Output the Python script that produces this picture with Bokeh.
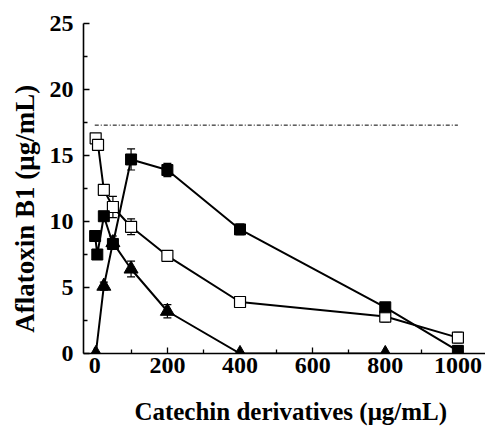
from bokeh.plotting import figure
from bokeh.models import ColumnDataSource, Whisker, TeeHead, Range1d, FixedTicker
from bokeh.embed import file_html
from bokeh.resources import INLINE

# data
filled_x = [1, 7, 25, 50, 100, 200, 400, 800, 1000]
filled_y = [8.9, 7.5, 10.4, 8.3, 14.7, 13.9, 9.4, 3.5, 0.2]
filled_err = [0, 0, 0, 0, 0.8, 0.5, 0.4, 0.3, 0.4]

open_x = [2.5, 9, 25, 50, 100, 200, 400, 800, 1000]
open_y = [16.3, 15.8, 12.4, 11.1, 9.6, 7.4, 3.9, 2.8, 1.2]
open_err = [0.2, 0.2, 0.2, 0.8, 0.6, 0.2, 0.3, 0.4, 0.4]

tri_x = [3, 25, 50, 100, 200, 400, 800]
tri_y = [0, 5.1, 8.4, 6.4, 3.2, 0, 0]
tri_err = [0, 0.3, 0.5, 0.6, 0.5, 0, 0]

control_x = [0, 1000]
control_y = [17.3, 17.3]

x_ticks = [0, 200, 400, 600, 800, 1000]
x_minor = [100, 300, 500, 700, 900]
y_ticks = [0, 5, 10, 15, 20, 25]
y_minor = [2.5, 7.5, 12.5, 17.5, 22.5]

x_title = "\u00a0\u00a0Catechin derivatives (μg/mL)"
y_title = "Aflatoxin B1 (μg/mL)\u00a0\u00a0\u00a0\u00a0\u00a0\u00a0"

FONT = "Liberation Serif"

p = figure(width=485, height=427, output_backend="svg", toolbar_location=None,
           x_range=Range1d(-31, 1076), y_range=Range1d(0, 25),
           min_border_left=83, min_border_right=0, min_border_top=23, min_border_bottom=74)
p.outline_line_color = None
p.xgrid.visible = False
p.ygrid.visible = False
p.background_fill_color = "white"
p.border_fill_color = "white"

for ax in (p.xaxis[0], p.yaxis[0]):
    ax.axis_line_width = 1.6
    ax.axis_line_color = "black"
    ax.major_tick_in = 6
    ax.major_tick_out = 0
    ax.minor_tick_in = 4
    ax.minor_tick_out = 0
    ax.major_tick_line_width = 1.3
    ax.minor_tick_line_width = 1.3
    ax.major_tick_line_color = "black"
    ax.minor_tick_line_color = "black"
    ax.major_label_text_font = FONT
    ax.major_label_text_font_style = "bold"
    ax.major_label_text_font_size = "24px"
    ax.major_label_text_color = "black"
    ax.axis_label_text_font = FONT
    ax.axis_label_text_font_style = "bold"
    ax.axis_label_text_color = "black"

p.xaxis.axis_label_text_font_size = "25px"
p.yaxis.axis_label_text_font_size = "27px"
p.xaxis.ticker = FixedTicker(ticks=x_ticks, minor_ticks=x_minor)
p.yaxis.ticker = FixedTicker(ticks=y_ticks, minor_ticks=y_minor)
p.xaxis.axis_label = x_title
p.yaxis.axis_label = y_title
p.xaxis.major_label_standoff = 4
p.yaxis.major_label_standoff = 10
p.xaxis.axis_label_standoff = 22
p.yaxis.axis_label_standoff = 7

# control dash-dot line
p.line(control_x, control_y, line_color="black", line_width=1, line_dash="4 2 1 2")

fs = ColumnDataSource(dict(x=filled_x, y=filled_y,
                           lo=[a - b for a, b in zip(filled_y, filled_err)],
                           hi=[a + b for a, b in zip(filled_y, filled_err)]))
os_ = ColumnDataSource(dict(x=open_x, y=open_y,
                            lo=[a - b for a, b in zip(open_y, open_err)],
                            hi=[a + b for a, b in zip(open_y, open_err)]))
ts = ColumnDataSource(dict(x=tri_x, y=tri_y,
                           lo=[a - b for a, b in zip(tri_y, tri_err)],
                           hi=[a + b for a, b in zip(tri_y, tri_err)]))

p.line("x", "y", source=ts, line_color="black", line_width=2)
p.line("x", "y", source=os_, line_color="black", line_width=2)
p.line("x", "y", source=fs, line_color="black", line_width=2)

for src in (ts, os_, fs):
    w = Whisker(source=src, base="x", lower="lo", upper="hi",
                line_color="black", line_width=1.2,
                upper_head=TeeHead(size=8, line_color="black", line_width=1.2),
                lower_head=TeeHead(size=8, line_color="black", line_width=1.2))
    p.add_layout(w)

p.scatter("x", "y", source=ts, marker="triangle", size=14,
          fill_color="black", line_color="black")
p.scatter("x", "y", source=os_, marker="square", size=11,
          fill_color="white", line_color="black", line_width=1.2)
p.scatter("x", "y", source=fs, marker="square", size=11,
          fill_color="black", line_color="black")

open("out.html", "w").write(file_html(p, INLINE))
